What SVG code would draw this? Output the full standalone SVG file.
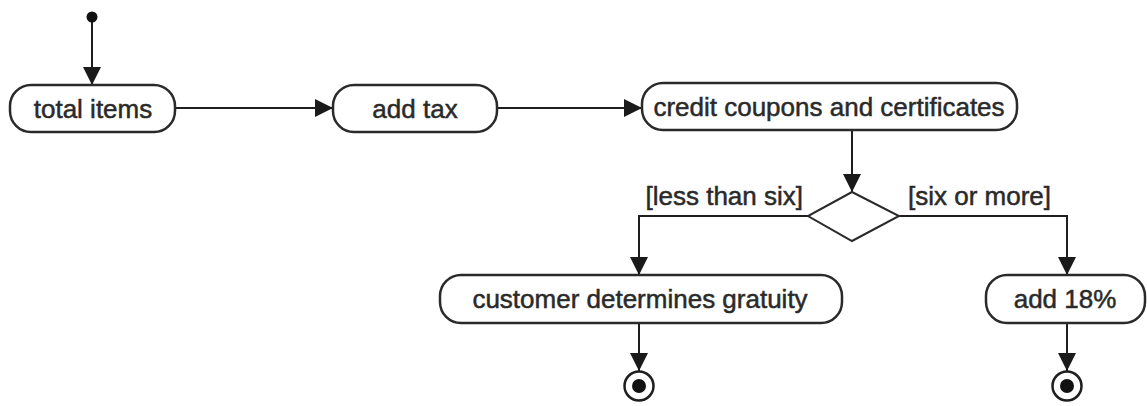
<svg xmlns="http://www.w3.org/2000/svg" width="1147" height="406" viewBox="0 0 1147 406">
<defs>
<marker id="arr" markerUnits="userSpaceOnUse" markerWidth="18" markerHeight="18" refX="18" refY="9" orient="auto">
<path d="M0,0 L18,9 L0,18 Z" fill="#1a1a1a"/>
</marker>
<style>
.act{fill:#fff;stroke:#2a2a2a;stroke-width:2.5}
.lbl{font-family:"Liberation Sans",Arial,sans-serif;font-size:26px;fill:#2a2a2a;stroke:#2a2a2a;stroke-width:0.5}
.c{text-anchor:middle}
.edge{fill:none;stroke:#1e1e1e;stroke-width:2}
</style>
</defs>
<rect width="1147" height="406" fill="#fff"/>
<g id="connectors">
<path class="edge" d="M92,17 V85" marker-end="url(#arr)"/>
<path class="edge" d="M175,108 H333" marker-end="url(#arr)"/>
<path class="edge" d="M497,108 H642" marker-end="url(#arr)"/>
<path class="edge" d="M852,130 V192" marker-end="url(#arr)"/>
<path class="edge" d="M808,216 H639 V275" marker-end="url(#arr)"/>
<path class="edge" d="M899,216 H1067 V275" marker-end="url(#arr)"/>
<path class="edge" d="M639,323 V371" marker-end="url(#arr)"/>
<path class="edge" d="M1067,323 V371" marker-end="url(#arr)"/>
<text class="lbl" x="803" y="205" text-anchor="end">[less than six]</text>
<text class="lbl" x="908" y="205">[six or more]</text>
</g>
<g id="start"><circle cx="92" cy="17" r="5.5" fill="#111"/></g>
<g id="total-items">
<rect class="act" x="10" y="85" width="165" height="47" rx="21"/>
<text class="lbl c" x="93" y="118">total items</text>
</g>
<g id="add-tax">
<rect class="act" x="333" y="85" width="164" height="47" rx="21"/>
<text class="lbl c" x="415" y="118">add tax</text>
</g>
<g id="credit-coupons">
<rect class="act" x="642" y="83" width="375" height="47" rx="21"/>
<text class="lbl c" x="829" y="116">credit coupons and certificates</text>
</g>
<g id="decision">
<polygon points="852,192 899,216 852,241 808,216" fill="#fff" stroke="#2a2a2a" stroke-width="2"/>
</g>
<g id="customer-gratuity">
<rect class="act" x="440" y="275" width="402" height="48" rx="21"/>
<text class="lbl c" x="640" y="308">customer determines gratuity</text>
</g>
<g id="add-18">
<rect class="act" x="986" y="275" width="159" height="48" rx="21"/>
<text class="lbl c" x="1065" y="308">add 18%</text>
</g>
<g id="end-left">
<circle cx="639" cy="386" r="14.5" fill="#fff" stroke="#1e1e1e" stroke-width="2.5"/>
<circle cx="639" cy="386" r="7" fill="#111"/>
</g>
<g id="end-right">
<circle cx="1067" cy="386" r="14.5" fill="#fff" stroke="#1e1e1e" stroke-width="2.5"/>
<circle cx="1067" cy="386" r="7" fill="#111"/>
</g>
</svg>
